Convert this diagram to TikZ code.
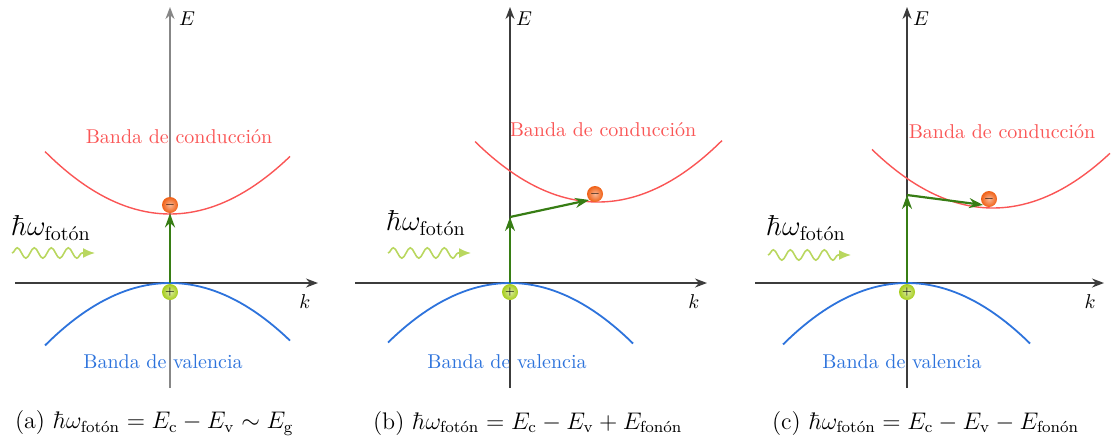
\documentclass[tikz,border=0pt]{standalone}
\usepackage{amsmath}
\usetikzlibrary{arrows.meta,decorations.pathmorphing}
\definecolor{AxisGray}{RGB}{60,60,60}
\definecolor{LightAxis}{RGB}{135,135,135}
\definecolor{CondRed}{RGB}{250,85,85}
\definecolor{ValBlue}{RGB}{45,115,220}
\definecolor{TransGreen}{RGB}{55,125,20}
\definecolor{WaveGreen}{RGB}{185,215,95}
\definecolor{ElecOrange}{RGB}{240,95,20}
\definecolor{HoleGreen}{RGB}{165,205,25}
\tikzset{
  >=Stealth,
  axis/.style={-{Stealth[length=6pt,width=4.5pt]},line width=0.8pt,draw=AxisGray},
  axisl/.style={axis,draw=LightAxis,line width=1.3pt},
  cband/.style={draw=CondRed,line width=0.7pt},
  vband/.style={draw=ValBlue,line width=0.9pt},
  trans/.style={-{Stealth[length=7pt,width=5pt]},line width=1.1pt,draw=TransGreen},
  photon/.style={-{Latex[length=6pt,width=5pt]},draw=WaveGreen,line width=0.8pt,decorate,decoration={snake,amplitude=2.6pt,segment length=8.5pt,post length=5pt}},
  elec/.style={circle,minimum size=8pt,inner sep=0pt,shading=radial,inner color=ElecOrange!45!white,outer color=ElecOrange,font=\tiny},
  hole/.style={circle,minimum size=8pt,inner sep=0pt,shading=radial,inner color=HoleGreen!40!white,outer color=HoleGreen,font=\tiny},
  clabel/.style={text=CondRed},
  vlabel/.style={text=ValBlue},
  axlabel/.style={font=\normalsize},
  hwlabel/.style={font=\Large},
  caption/.style={anchor=west,font=\large}
}
\begin{document}
\begin{tikzpicture}[x=0.5pt,y=-0.5pt]
  \useasboundingbox (0,0) rectangle (1111,446);
  \node[clabel] (c1) at (179,137) {Banda de conducción};
  \node[vlabel] (v1) at (163,362) {Banda de valencia};
  \node[clabel] (c2) at (603,130) {Banda de conducción};
  \node[vlabel] (v2) at (507,362) {Banda de valencia};
  \node[clabel] (c3) at (1002,132) {Banda de conducción};
  \node[vlabel] (v3) at (902,362) {Banda de valencia};
  \coordinate (a1b) at (170,388);
  \coordinate (a1t) at (170,7);
  \coordinate (k1l) at (15,283);
  \coordinate (k1r) at (318,283);
  \coordinate (a2b) at (510,388);
  \coordinate (a2t) at (510,7);
  \coordinate (k2l) at (355,283);
  \coordinate (k2r) at (707,283);
  \coordinate (a3b) at (907,388);
  \coordinate (a3t) at (907,7);
  \coordinate (k3l) at (755,283);
  \coordinate (k3r) at (1104,283);
  \draw[axisl] (a1b) -- (a1t);
  \draw[axis] (k1l) -- (k1r);
  \draw[axis] (a2b) -- (a2t);
  \draw[axis] (k2l) -- (k2r);
  \draw[axis] (a3b) -- (a3t);
  \draw[axis] (k3l) -- (k3r);
  \node[axlabel] (E1) at (187,19) {$E$};
  \node[axlabel] (E2) at (524,19) {$E$};
  \node[axlabel] (E3) at (921,19) {$E$};
  \node[axlabel] (kk1) at (305,302) {$k$};
  \node[axlabel] (kk2) at (694,302) {$k$};
  \node[axlabel] (kk3) at (1090,302) {$k$};
  \draw[cband] plot[domain=-125:120,samples=50] ({170+\x},{214-0.004*\x*\x});
  \draw[vband] plot[domain=-125:120,samples=50] ({170+\x},{283+0.004*\x*\x});
  \draw[cband] plot[domain=-123:124,samples=50] ({598+\x},{202-0.004*\x*\x});
  \draw[vband] plot[domain=-122:123,samples=50] ({510+\x},{283+0.004*\x*\x});
  \draw[cband] plot[domain=-121:117,samples=50] ({993+\x},{208-0.004*\x*\x});
  \draw[vband] plot[domain=-124:123,samples=50] ({907+\x},{283+0.004*\x*\x});
  \coordinate (o1) at (170,283);
  \coordinate (o2) at (510,283);
  \coordinate (m2) at (510,217);
  \coordinate (o3) at (907,283);
  \coordinate (m3) at (907,195);
  \node[elec] (e1) at (170,205) {$-$};
  \node[elec] (e2) at (595,194) {$-$};
  \node[elec] (e3) at (989,199) {$-$};
  \draw[trans] (o1) -- (e1.south);
  \draw[trans] (o2) -- (m2);
  \draw[trans] (m2) -- (e2.south west);
  \draw[trans] (o3) -- (m3);
  \draw[trans] (m3) -- (e3.south west);
  \node[hole] (h1) at (170,292) {$+$};
  \node[hole] (h2) at (510,292) {$+$};
  \node[hole] (h3) at (907,292) {$+$};
  \node[hwlabel] (hw1) at (51,228) {$\hbar\omega_{\text{fotón}}$};
  \node[hwlabel] (hw2) at (426,223) {$\hbar\omega_{\text{fotón}}$};
  \node[hwlabel] (hw3) at (806,228) {$\hbar\omega_{\text{fotón}}$};
  \coordinate (w1l) at (12,253);
  \coordinate (w1r) at (95,253);
  \coordinate (w2l) at (388,253);
  \coordinate (w2r) at (471,253);
  \coordinate (w3l) at (768,255);
  \coordinate (w3r) at (851,255);
  \draw[photon] (w1l) -- (w1r);
  \draw[photon] (w2l) -- (w2r);
  \draw[photon] (w3l) -- (w3r);
  \node[caption] (capa) at (8,423) {(a) $\hbar\omega_{\text{fotón}}=E_{\mathrm{c}}-E_{\mathrm{v}}\sim E_{\mathrm{g}}$};
  \node[caption] (capb) at (366,423) {(b) $\hbar\omega_{\text{fotón}}=E_{\mathrm{c}}-E_{\mathrm{v}}+E_{\text{fonón}}$};
  \node[caption] (capc) at (765,423) {(c) $\hbar\omega_{\text{fotón}}=E_{\mathrm{c}}-E_{\mathrm{v}}-E_{\text{fonón}}$};
\end{tikzpicture}
\end{document}
